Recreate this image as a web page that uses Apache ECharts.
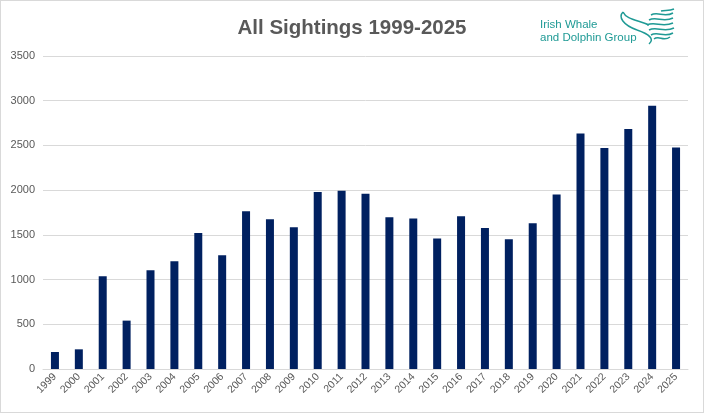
<!DOCTYPE html>
<html>
<head>
<meta charset="utf-8">
<script src="https://cdn.jsdelivr.net/npm/echarts@6/dist/echarts.min.js"></script>
<style>
html,body{margin:0;padding:0;background:#fff;}
#chart{width:704px;height:413px;box-sizing:border-box;border:1px solid #d9d9d9;}
</style>
</head>
<body>
<div id="chart"></div>
<script>
const years = ['1999','2000','2001','2002','2003','2004','2005','2006','2007','2008','2009','2010','2011','2012','2013','2014','2015','2016','2017','2018','2019','2020','2021','2022','2023','2024','2025'];
const sightings = [190,220,1037,541,1104,1205,1522,1272,1765,1675,1586,1978,1993,1959,1698,1683,1459,1709,1578,1451,1631,1951,2634,2470,2683,2944,2478];
const yTicks = {min:0, max:3500, interval:500};

const chart = echarts.init(document.getElementById('chart'));
const teal = '#1f9a95';
function curve(x1,y1,c1x,c1y,c2x,c2y,x2,y2){
  return {type:'bezierCurve', silent:true,
    shape:{x1:x1,y1:y1,cpx1:c1x,cpy1:c1y,cpx2:c2x,cpy2:c2y,x2:x2,y2:y2},
    style:{stroke:teal, fill:null, lineWidth:1.5}};
}
function wave(x,y,w){
  return curve(x,y, x+w*0.3,y-4, x+w*0.6,y+3, x+w,y-2);
}
const logo = [
  {type:'text', x:539, y:18, style:{text:'Irish Whale', font:'11.5px "Liberation Sans"', fill:teal}},
  {type:'text', x:539, y:31, style:{text:'and Dolphin Group', font:'11.5px "Liberation Sans"', fill:teal}},
  curve(622,11, 625,18, 636,19, 648,24),
  curve(622,11, 617,16, 622,24, 636,29),
  curve(636,29, 648,33, 654,38, 648,43),
  wave(650,14,22),
  wave(648,19,24),
  wave(646,24,26),
  wave(648,29,25),
  wave(650,34,22),
  wave(653,38,16),
  curve(660,10, 664,9, 668,10, 673,8)
];
chart.setOption({
  animation:false,
  title:{
    text:'All Sightings 1999-2025',
    left:'center', top:12,
    textStyle:{fontFamily:'Liberation Sans', fontWeight:'bold', fontSize:20.5, color:'#595959'}
  },
  grid:{left:42, right:15, top:55, bottom:43},
  xAxis:{
    type:'category', data:years,
    axisLine:{show:true, lineStyle:{color:'#d9d9d9'}},
    axisTick:{show:false},
    axisLabel:{rotate:45, interval:0, fontFamily:'Liberation Sans', fontSize:10.5, color:'#595959', margin:6}
  },
  yAxis:{
    type:'value', min:yTicks.min, max:yTicks.max, interval:yTicks.interval,
    axisLine:{show:false}, axisTick:{show:false},
    axisLabel:{fontFamily:'Liberation Sans', fontSize:11, color:'#595959', margin:8, formatter:function(v){return String(v);}},
    splitLine:{lineStyle:{color:'#d9d9d9'}}
  },
  series:[{
    type:'bar', data:sightings, barWidth:8,
    itemStyle:{color:'#002060'}
  }],
  graphic:logo
});
</script>
</body>
</html>
